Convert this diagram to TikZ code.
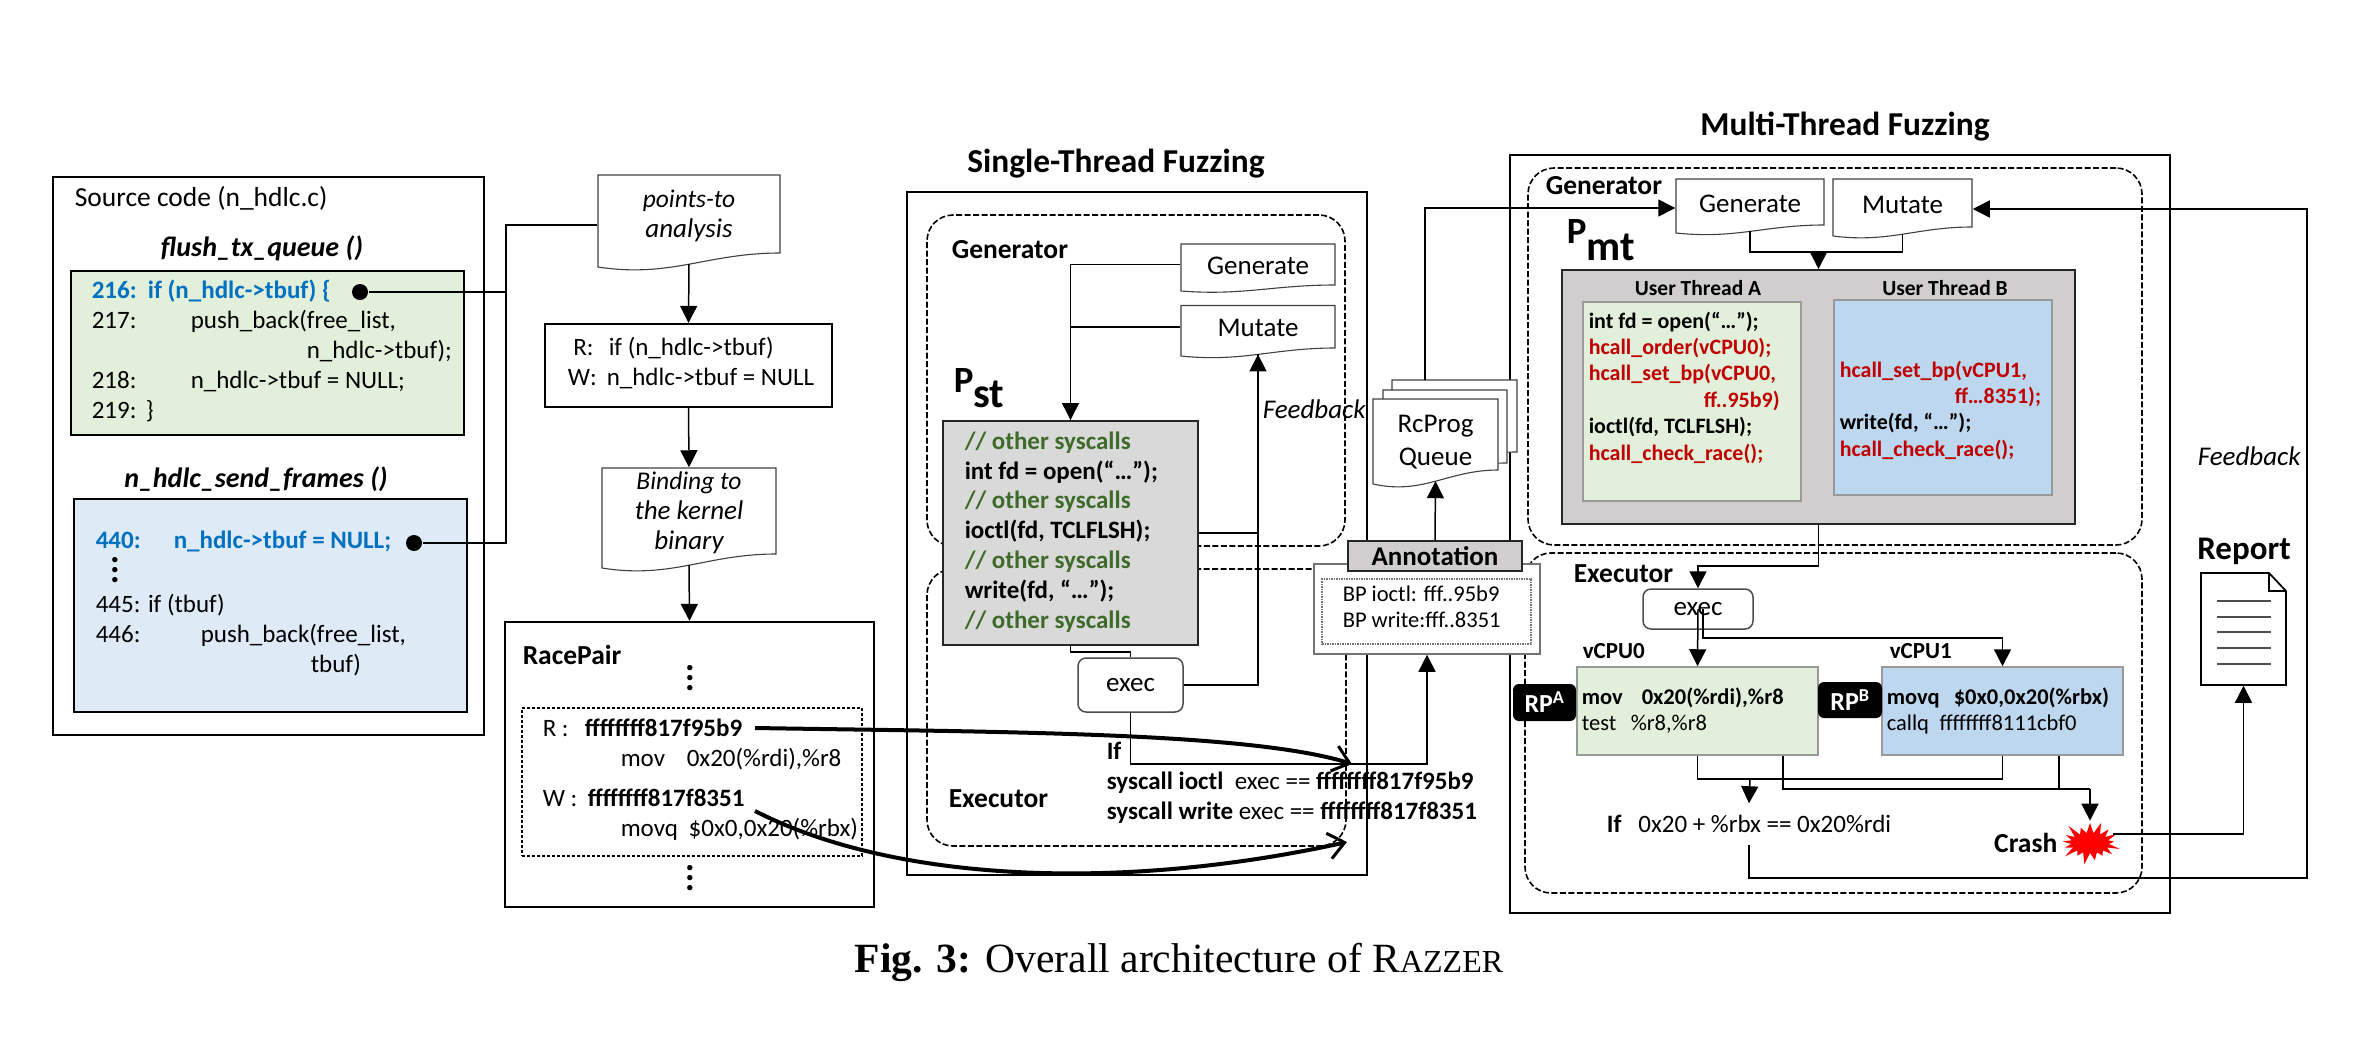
\documentclass[tikz,border=0pt]{standalone}
\usepackage{amsmath}
\usepackage{fontspec}
\usepackage{tikz}
\usetikzlibrary{arrows.meta,shapes.symbols}
\setmainfont{Carlito}
\newfontfamily\capfont{Liberation Serif}
\definecolor{srcgreen}{HTML}{E2EFDA}
\definecolor{srcblue}{HTML}{DEEAF6}
\definecolor{cpublue}{HTML}{BDD7EE}
\definecolor{codeblue}{HTML}{0070C0}
\definecolor{codegreen}{HTML}{3F6B2A}
\definecolor{codered}{HTML}{C00000}
\definecolor{stgrey}{HTML}{D9D9D9}
\definecolor{mtgrey}{HTML}{D0CECE}
\tikzset{
  plainbox/.style={draw,line width=2.2pt,inner sep=0pt},
  code/.style={anchor=north west,inner sep=0pt,align=left,font=\fontsize{25}{30}\selectfont},
  codesmall/.style={anchor=north west,inner sep=0pt,align=left,font=\fontsize{22}{26.4}\selectfont\bfseries},
  head/.style={inner sep=0pt,font=\fontsize{27.5}{30}\selectfont\bfseries},
  funcname/.style={inner sep=0pt,font=\fontsize{28}{30}\selectfont\bfseries\itshape},
  title/.style={inner sep=0pt,font=\fontsize{33.4}{36}\selectfont\bfseries},
  feedback/.style={inner sep=0pt,anchor=west,font=\fontsize{27}{30}\selectfont\itshape},
  framed/.style={draw,dash pattern=on 6pt off 2.5pt,line width=1.6pt,rounded corners=26pt},
  rpbadge/.style={fill=black,text=white,rounded corners=6pt,inner sep=0pt,font=\fontsize{26}{30}\selectfont\bfseries},
  bullet/.style={circle,fill=black,inner sep=0pt,minimum size=16pt},
  stack/.style={inner sep=0pt,font=\fontsize{36}{10}\selectfont\bfseries},
  execbox/.style={draw=black!70,rounded corners=8pt,fill=white,inner sep=0pt,font=\fontsize{27}{32}\selectfont},
}
\newcommand{\dotstack}{\vbox{\baselineskip10pt\lineskiplimit0pt\hbox{.}\hbox{.}\hbox{.}}}
% name, left, top, right, left foot, right foot, text drop, text
\newcommand{\docnode}[8]{%
  \filldraw[fill=white,draw=black!75,line width=1.1pt] (#2,#3) -- (#4,#3) -- (#4,#6)
    .. controls ({#4-0.4*(#4-#2)},#6) and ({#2+0.4*(#4-#2)},{#5+0.8*(#5-#6)}) .. (#2,#5) -- cycle;
  \node[inner sep=0pt,minimum width={(#4-#2)*1pt},minimum height={(#6-#3)*1pt}] (#1) at ({(#2+#4)/2},{(#3+#6)/2}) {};
  \node[inner sep=0pt,align=center,font=\fontsize{27}{30}\selectfont] (#1t) at ({(#2+#4)/2},{(#3+#6)/2+#7}) {#8};
  \coordinate (#1b) at ({(#2+#4)/2},{(#5+#6)/2+0.3*(#5-#6)});
}

\begin{document}
\begin{tikzpicture}[x=1pt,y=-1pt,line width=1.5pt,
                    >={Triangle[length=17pt,width=17pt]}]
  \useasboundingbox (0,0) rectangle (2378,1050);

  %source code
  \node[plainbox,minimum width=431pt,minimum height=558pt] (src) at (268.5,456) {};
  \node[code,anchor=west,font=\fontsize{27.5}{30}\selectfont] (srctitle) at (74,198) {Source code (n\_hdlc.c)};
  \node[funcname] (fa) at (262,248) {flush\_tx\_queue ()};
  \node[draw,fill=srcgreen,inner sep=0pt,minimum width=393pt,minimum height=164pt] (ga) at (267.5,353) {};
  \node[code] (gacode) at (91,279) {\textcolor{codeblue}{\textbf{216:\ \ if (n\_hdlc->tbuf) \{}}\\
    \makebox[99pt][l]{217:}push\_back(free\_list,\\
    \makebox[215pt][l]{}n\_hdlc->tbuf);\\
    \makebox[99pt][l]{218:}n\_hdlc->tbuf = NULL;\\
    \makebox[54pt][l]{219:}\}};
  \node[funcname] (fb) at (256,479) {n\_hdlc\_send\_frames ()};
  \node[draw,fill=srcblue,inner sep=0pt,minimum width=393pt,minimum height=213pt] (gb) at (270.5,605.5) {};
  \node[code] (gbcode) at (95,530) {\textcolor{codeblue}{\textbf{\makebox[78pt][l]{440:}n\_hdlc->tbuf = NULL;}}};
  \node[stack] (gbdots) at (115,570) {\dotstack};
  \node[code] (gbrest) at (95,593) {445: if (tbuf)\\
    \makebox[105pt][l]{446:}push\_back(free\_list,\\
    \makebox[215pt][l]{}tbuf)};
  \node[bullet] (dota) at (360,292) {};
  \node[bullet] (dotb) at (414,543) {};

  %analysis column
  \docnode{pta}{598}{175}{780}{267}{253}{2}{\fontsize{25.5}{29}\selectfont\itshape points-to\\\itshape analysis}
  \node[plainbox,minimum width=287pt,minimum height=83pt] (rw) at (688.5,365.5) {};
  \node[code] (rwcode) at (567,336) {\makebox[41pt][l]{\ R:}if (n\_hdlc->tbuf)\\\makebox[39pt][l]{W:}n\_hdlc->tbuf = NULL};
  \docnode{bind}{602}{468}{776}{568}{554}{2}{\fontsize{25.5}{30}\selectfont\itshape Binding to\\\itshape the kernel\\\itshape binary}
  \node[plainbox,minimum width=369pt,minimum height=285pt] (race) at (689.5,764.5) {};
  \node[head,anchor=west] (racetitle) at (522,655) {RacePair};
  \node[stack] (dotsa) at (690,678) {\dotstack};
  \node[draw,densely dashed,inner sep=0pt,minimum width=340pt,minimum height=148pt] (pair) at (692,782) {};
  \node[code] (paircode) at (542,718) {\makebox[42pt][l]{R :}\textbf{ffffffff817f95b9}\\
    \makebox[78pt][l]{}\makebox[66pt][l]{mov}0x20(\%rdi),\%r8};
  \node[code] (paircodeb) at (542,788) {\makebox[45pt][l]{W :}\textbf{ffffffff817f8351}\\
    \makebox[78pt][l]{}\makebox[68pt][l]{movq}\$0x0,0x20(\%rbx)};
  \node[stack] (dotsb) at (690,878) {\dotstack};

  \coordinate (joinb) at (506,543);
  \draw ([yshift=-11pt]pta.west) -| (joinb) -- (dotb);
  \draw (dota) -- (joinb |- dota);
  \draw[->] (ptab) -- (rw.north);
  \draw[->] (rw.south) -- (bind.north);
  \draw[->] (bindb) -- (race.north);

  %single-thread fuzzing
  \node[title] (sttitle) at (1116,164) {Single-Thread Fuzzing};
  \node[plainbox,minimum width=460pt,minimum height=683pt] (stout) at (1137,533.5) {};
  \node[framed,minimum width=418pt,minimum height=331pt] (stgen) at (1136,380.5) {};
  \node[framed,minimum width=419pt,minimum height=277pt] (stexe) at (1136.5,707.5) {};
  \node[head,anchor=west] (stgenlabel) at (951,250) {Generator};
  \docnode{stgenerate}{1181}{244}{1335}{291}{285}{1}{Generate}
  \docnode{stmutate}{1181}{305.5}{1335}{356}{348}{1}{Mutate}
  \node[inner sep=0pt,anchor=base west,font=\fontsize{37}{40}\selectfont\bfseries] (pst) at (953,392)
    {P\raisebox{-15pt}{\fontsize{42}{40}\selectfont st}};
  \node[draw=black!85,line width=2pt,fill=stgrey,inner sep=0pt,minimum width=255pt,minimum height=224pt] (stbox) at (1070.5,533) {};
  \node[code,font=\fontsize{25}{29.8}\selectfont\bfseries] (stcode) at (964,431) {\textcolor{codegreen}{// other syscalls}\\
    int fd = open(“…”);\\
    \textcolor{codegreen}{// other syscalls}\\
    ioctl(fd, TCLFLSH);\\
    \textcolor{codegreen}{// other syscalls}\\
    write(fd, “…”);\\
    \textcolor{codegreen}{// other syscalls}};
  \node[execbox,minimum width=105pt,minimum height=54pt] (stexec) at (1130.5,685) {exec};
  \node[feedback] (stfeed) at (1262,409) {Feedback};
  \node[head,anchor=west] (stexelabel) at (948,799) {Executor};
  \node[code,font=\fontsize{25}{30}\selectfont] (stif) at (1106,741) {\textbf{If}\\
    \textbf{syscall ioctl}\ \ exec == \textbf{ffffffff817f95b9}\\
    \textbf{syscall write} exec == \textbf{ffffffff817f8351}};

  \draw (stgenerate.west) -| (stbox.north);
  \draw[->] (stmutate.west) -| (stbox.north);
  \draw (stbox.south) -- ++(0,6) -| (stexec.north);
  \draw[->] (stbox.east) -| (stmutateb);
  \draw (stexec.east) -| (stmutateb);

  %multi-thread frames
  \node[title] (mttitle) at (1845,127) {Multi-Thread Fuzzing};
  \node[plainbox,minimum width=660pt,minimum height=758pt] (mtout) at (1840,534) {};
  \node[framed,minimum width=614pt,minimum height=377pt] (mtgen) at (1835,356.5) {};
  \node[framed,minimum width=617pt,minimum height=340pt] (mtexe) at (1833.5,723) {};

  %queue and annotation
  \coordinate (qtop) at (1425,380);
  \docnode{qc}{1392}{380}{1517}{460}{452}{0}{}
  \docnode{qb}{1383}{390}{1507}{471}{463}{0}{}
  \docnode{qa}{1373}{399}{1498}{484}{470}{8}{RcProg\\[3pt]Queue}
  \node[draw=black!55,fill=white,inner sep=0pt,minimum width=226pt,minimum height=90pt] (anno) at (1427,609) {};
  \node[draw=black!55,densely dotted,inner sep=0pt,minimum width=209pt,minimum height=65pt] (annoin) at (1426.5,611.5) {};
  \node[code,font=\fontsize{22.5}{26}\selectfont] (annocode) at (1342,585) {BP ioctl: fff..95b9\\BP write:fff..8351};
  \node[draw=black!85,line width=2pt,fill=mtgrey,inner sep=0pt,minimum width=174pt,minimum height=30pt,
        font=\fontsize{27}{30}\selectfont\bfseries] (annot) at (1435,556) {Annotation};
  \draw[->] (annot.north) -- (qab);
  \draw[->] (stexec.south) -- ++(0,51) -| (anno.south);

  %multi-thread fuzzing
  \node[head,anchor=west] (mtgenlabel) at (1545,186) {Generator};
  \docnode{mtgenerate}{1676}{179}{1824}{233}{225}{2}{Generate}
  \docnode{mtmutate}{1833}{179}{1972}{236}{227}{2}{Mutate}
  \node[inner sep=0pt,anchor=base west,font=\fontsize{37}{40}\selectfont\bfseries] (pmt) at (1566,243)
    {P\raisebox{-17pt}{\fontsize{42}{40}\selectfont mt}};
  \node[draw=black!85,line width=2pt,fill=mtgrey,inner sep=0pt,minimum width=513pt,minimum height=254pt] (mtbox) at (1818.5,397) {};
  \node[inner sep=0pt,font=\fontsize{21.5}{26}\selectfont\bfseries] (tha) at (1698,288) {User Thread A};
  \node[inner sep=0pt,font=\fontsize{21.5}{26}\selectfont\bfseries] (thb) at (1945,288) {User Thread B};
  \node[draw=black!40,fill=srcgreen,inner sep=0pt,minimum width=218pt,minimum height=199pt] (tga) at (1692,401.5) {};
  \node[draw=black!40,fill=cpublue,inner sep=0pt,minimum width=218pt,minimum height=195pt] (tgb) at (1943,397.5) {};
  \node[codesmall] (tacode) at (1588,311) {int fd = open(“…”);\\
    \textcolor{codered}{hcall\_order(vCPU0);}\\
    \textcolor{codered}{hcall\_set\_bp(vCPU0,}\\
    \textcolor{codered}{\makebox[115pt][l]{}ff..95b9)}\\
    ioctl(fd, TCLFLSH);\\
    \textcolor{codered}{hcall\_check\_race();}};
  \node[codesmall] (tbcode) at (1839,360) {\textcolor{codered}{hcall\_set\_bp(vCPU1,}\\
    \textcolor{codered}{\makebox[115pt][l]{}ff…8351);}\\
    write(fd, “…”);\\
    \textcolor{codered}{hcall\_check\_race();}};
  \coordinate (mjoin) at (1818.5,252);
  \draw (mtgenerateb) |- (mjoin) -| (mtmutateb);
  \draw[->] (mjoin) -- (mtbox.north);

  \node[head,anchor=west] (mtexelabel) at (1573,574) {Executor};
  \node[execbox,minimum width=110pt,minimum height=40pt,fill=white] (mtexec) at (1698,609) {exec};
  \node[head,anchor=west,font=\fontsize{23}{26}\selectfont\bfseries] (cpua) at (1582,651) {vCPU0};
  \node[head,anchor=west,font=\fontsize{23}{26}\selectfont\bfseries] (cpub) at (1889,651) {vCPU1};
  \node[draw=black!40,fill=srcgreen,inner sep=0pt,minimum width=241pt,minimum height=88pt] (vcpua) at (1697.5,711) {};
  \node[draw=black!40,fill=cpublue,inner sep=0pt,minimum width=241pt,minimum height=88pt] (vcpub) at (2002.5,711) {};
  \node[code,font=\fontsize{22.5}{26}\selectfont] (vcode) at (1581,687) {\textbf{\makebox[60pt][l]{mov}0x20(\%rdi),\%r8}\\\makebox[49pt][l]{test}\%r8,\%r8};
  \node[code,font=\fontsize{22.5}{26}\selectfont] (vcodeb) at (1886,687) {\textbf{\makebox[67pt][l]{movq}\$0x0,0x20(\%rbx)}\\\makebox[53pt][l]{callq}ffffffff8111cbf0};
  \node[rpbadge,minimum width=63pt,minimum height=37pt] (rpa) at (1544.5,702.5) {RP\textsuperscript{A}};
  \node[rpbadge,minimum width=64pt,minimum height=36pt] (rpb) at (1850,700) {RP\textsuperscript{B}};
  \node[inner sep=0pt,minimum height=40pt,font=\fontsize{25}{30}\selectfont] (cond) at (1749,824) {\textbf{If}\ \ \ 0x20 + \%rbx == 0x20\%rdi};
  \node[starburst,fill=red,inner sep=0pt,minimum width=66pt,minimum height=48pt,starburst points=17,starburst point height=14pt] (star) at (2090,843) {};
  \node[head,anchor=east] (crash) at (2058,843) {Crash};
  \node[title,font=\fontsize{33}{36}\selectfont\bfseries] (reporttitle) at (2244,551) {Report};
  \node[inner sep=0pt,minimum width=85pt,minimum height=112pt] (report) at (2243.5,629) {};
  \draw[line width=1.7pt] (2201,573) -- (2269,573) -- (2286,591) -- (2286,685) -- (2201,685) -- cycle;
  \draw[line width=1.2pt] (2269,573) -- (2269,591) -- (2286,591);
  \foreach \liney in {601,617,632,648,664}
    \draw[line width=1.7pt,black!70] (2217,\liney) -- (2271,\liney);
  \node[feedback] (mtfeed) at (2197,456) {Feedback};

  \draw[->] (mtbox.south) -- ++(0,41) -| (mtexec.north);
  \draw[->] (mtexec.center) -- (vcpua.north);
  \draw[->] ([xshift=5pt]mtexec.center) -- ++(0,29) -| (vcpub.north);
  \coordinate (sjoin) at (1750,779);
  \draw (vcpua.south) |- (sjoin) -| (vcpub.south);
  \draw[->] (sjoin) -- (cond.north);
  \coordinate (cjoin) at (2090,789);
  \draw ([xshift=85.5pt]vcpua.south) |- (cjoin);
  \draw ([xshift=56.5pt]vcpub.south) -- ([xshift=56.5pt]vcpub.south |- cjoin);
  \draw[->] (cjoin) -- (star.north);
  \draw[->] ([yshift=9pt]star.east) -| (report.south);
  \coordinate (fbcorner) at (2307,878);
  \draw[->] (cond.south) |- (fbcorner) |- ([yshift=-6pt]mtmutate.east);
  \draw[->] (qtop) |- ([yshift=-6pt]mtgenerate.west);

  %race pair bindings
  \coordinate (readfrom) at (755,728);
  \coordinate (readto) at (1352,764);
  \coordinate (writefrom) at (755,811);
  \coordinate (writeto) at (1347,842);
  \draw[-{Straight Barb[length=16pt,width=26pt,line width=3pt]},line width=4pt]
    (readfrom) .. controls (1000,732) and (1250,732) .. (readto);
  \draw[-{Straight Barb[length=16pt,width=26pt,line width=3pt]},line width=4pt]
    (writefrom) .. controls (900,885) and (1130,890) .. (writeto);

  %caption
  \node[inner sep=0pt,font=\fontsize{41.6}{44}\selectfont\capfont] (fig) at (1179,962)
    {\textbf{Fig. 3:} Overall architecture of R{\fontsize{32}{34}\selectfont AZZER}};
\end{tikzpicture}
\end{document}
